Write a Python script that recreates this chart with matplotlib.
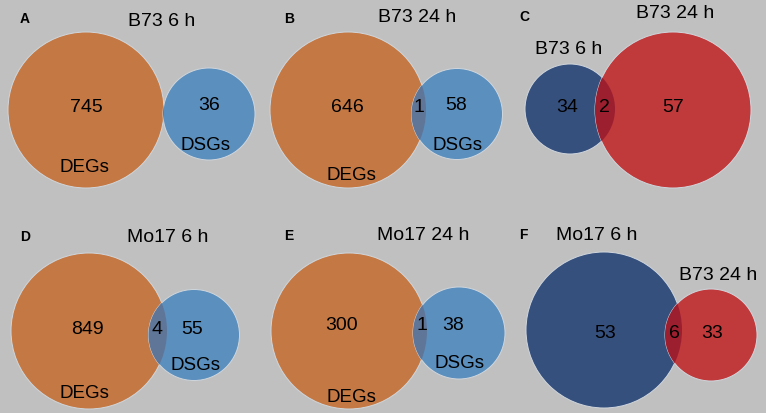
import matplotlib

matplotlib.use("Agg")
import matplotlib.pyplot as plt
from matplotlib.patches import Circle

plt.rcParams["font.family"] = ["Liberation Sans", "DejaVu Sans"]

# panel data
letters = ["A", "B", "C", "D", "E", "F"]
left_only = [745, 646, 34, 849, 300, 53]
shared = [0, 1, 2, 4, 1, 6]
right_only = [36, 58, 57, 55, 38, 33]
left_names = ["DEGs", "DEGs", "B73 6 h", "DEGs", "DEGs", "Mo17 6 h"]
right_names = ["DSGs", "DSGs", "B73 24 h", "DSGs", "DSGs", "B73 24 h"]
titles = ["B73 6 h", "B73 24 h", None, "Mo17 6 h", "Mo17 24 h", None]

bg = "#c0c0c0"
orange, blue, mix_ob = "#c47843", "#5b8fbe", "#5f7698"
navy, red, mix_nr = "#36507e", "#c0393b", "#9c1f30"

# layout in pixels: (left circle cx, cy, r), (right circle cx, cy, r)
circles = [
    ((86, 110, 78), (209, 114, 46)),
    ((348, 110, 78), (457, 114, 45.5)),
    ((570, 109, 45), (673, 110, 78)),
    ((89, 331, 78), (194, 335, 45.5)),
    ((349, 331, 78), (459, 333, 46)),
    ((604, 330, 78), (711, 335, 46)),
]
letter_pos = [(25, 19), (289, 19), (524, 17), (25, 237), (289, 236), (523, 235)]
title_pos = [(162, 21), (417, 17), None, (168, 238), (423, 235), None]
count_pos = [
    ((86, 107), None, (209, 106)),
    ((347, 107), (419, 108), (456, 106)),
    ((567, 107), (604, 107), (673, 107)),
    ((87, 329), (157, 329), (192, 329)),
    ((342, 325), (422, 326), (453, 326)),
    ((605, 333), (674, 333), (712, 333)),
]
name_pos = [
    ((84, 168), (206, 145)),
    ((351, 175), (457, 146)),
    ((569, 49), (675, 14)),
    ((84, 393), (196, 365)),
    ((351, 397), (460, 363)),
    ((597, 235), (718, 275)),
]

fig = plt.figure(figsize=(7.66, 4.13), dpi=100)
fig.patch.set_facecolor(bg)
ax = fig.add_axes([0, 0, 1, 1])
ax.set_xlim(0, 766)
ax.set_ylim(413, 0)
ax.set_aspect("equal")
ax.axis("off")

for i in range(6):
    (lx, ly, lr), (rx, ry, rr) = circles[i]
    if left_names[i] == "DEGs":
        cl, cr, cm = orange, blue, mix_ob
    else:
        cl, cr, cm = navy, red, mix_nr
    c1 = Circle((lx, ly), lr, facecolor=cl, edgecolor="#d0d6dc", lw=0.7)
    c2 = Circle((rx, ry), rr, facecolor=cr, edgecolor="#d0d6dc", lw=0.7)
    ax.add_patch(c1)
    ax.add_patch(c2)
    # overlap region
    clip = Circle((lx, ly), lr, transform=ax.transData, facecolor="none", lw=0)
    ax.add_patch(clip)
    lens = Circle((rx, ry), rr, facecolor=cm, edgecolor="none")
    ax.add_patch(lens)
    lens.set_clip_path(clip)

    ax.text(*letter_pos[i], letters[i], fontsize=10, fontweight="bold",
            ha="center", va="center")
    if titles[i]:
        ax.text(*title_pos[i], titles[i], fontsize=14, ha="center", va="center")

    pl, pm, pr = count_pos[i]
    ax.text(*pl, str(left_only[i]), fontsize=14, ha="center", va="center")
    if pm is not None and shared[i] > 0:
        ax.text(*pm, str(shared[i]), fontsize=14, ha="center", va="center")
    ax.text(*pr, str(right_only[i]), fontsize=14, ha="center", va="center")

    nl, nr = name_pos[i]
    ax.text(*nl, left_names[i], fontsize=14 if left_names[i] != "DEGs" else 13.5,
            ha="center", va="center")
    ax.text(*nr, right_names[i], fontsize=14 if right_names[i] != "DSGs" else 13.5,
            ha="center", va="center")

fig.savefig("out.png", dpi=100, facecolor=bg)
